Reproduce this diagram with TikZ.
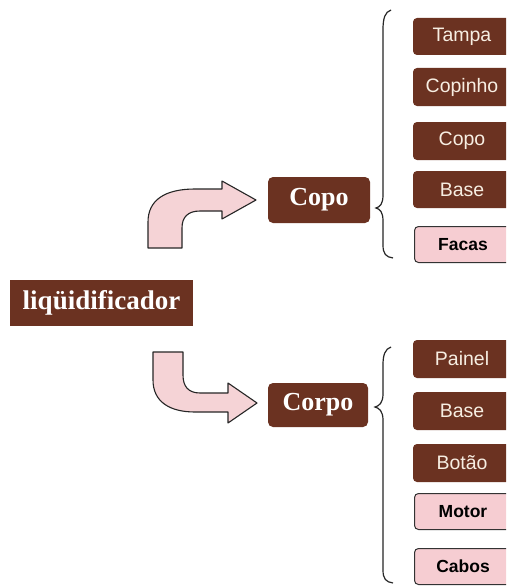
\documentclass[tikz,border=0pt]{standalone}
\usepackage{fontspec}
\setmainfont{Liberation Serif}
\setsansfont{Liberation Sans}
\definecolor{brown}{HTML}{6B3221}
\definecolor{pinkf}{HTML}{F6CDD2}
\definecolor{arrowf}{HTML}{F5D3D6}
\definecolor{cream}{HTML}{F7EEE2}
\tikzset{
  serifbox/.style={fill=brown, text=white, font=\bfseries\fontsize{26}{28}\selectfont, inner sep=0pt},
  itembox/.style={fill=brown, text=cream, rounded corners=4pt, minimum width=98pt, minimum height=37pt, inner sep=0pt, font=\sffamily\fontsize{19.5}{21}\selectfont},
  pinkbox/.style={fill=pinkf, draw=black!80, line width=1pt, text=black, rounded corners=4pt, minimum width=97pt, minimum height=36pt, inner sep=0pt, font=\sffamily\bfseries\fontsize{17.5}{19}\selectfont},
  bentarrow/.style={fill=arrowf, draw=black!85, line width=1.1pt, line join=round},
  bracepath/.style={draw=black!85, line width=1.2pt}
}
\begin{document}
\begin{tikzpicture}[x=1pt,y=-1pt]
\useasboundingbox (0,0) rectangle (506,586);
\clip (0,0) rectangle (506,586);
\fill[white] (0,0) rectangle (506,586);
% main nodes
\node[serifbox, minimum width=183pt, minimum height=46pt, font=\bfseries\fontsize{27}{29}\selectfont] (liq) at (101.5,303) {liqüidificador};
\node[serifbox, rounded corners=5pt, minimum width=102pt, minimum height=46pt] (copo) at (319,200) {Copo};
\node[serifbox, rounded corners=5pt, minimum width=100pt, minimum height=44pt] (corpo) at (318,405) {Corpo};
% top items
\node[itembox] (tampa) at (462,36.5) {Tampa};
\node[itembox, minimum height=38pt] (copinho) at (462,87) {Copinho};
\node[itembox, minimum height=38pt] (copo2) at (462,141) {Copo};
\node[itembox] (base1) at (462,189.5) {Base};
\node[pinkbox] (facas) at (463,244.5) {Facas};
% bottom items
\node[itembox, minimum height=38pt] (painel) at (462,359) {Painel};
\node[itembox, minimum height=38pt] (base2) at (462,411) {Base};
\node[itembox, minimum height=38pt] (botao) at (462,463) {Botão};
\node[pinkbox] (motor) at (463,511.5) {Motor};
\node[pinkbox] (cabos) at (463,566.5) {Cabos};
% bent arrows
\path[bentarrow] (148,248) -- (148,222) .. controls (148,200) and (165,189) .. (195,189) -- (222,189) -- (222,181) -- (256,200) -- (222,219) -- (222,211) -- (200,211) .. controls (188,211) and (182,217) .. (182,228) -- (182,248) -- cycle;
\path[bentarrow] (153,352) -- (153,380) .. controls (153,402) and (170,412) .. (195,412) -- (228,412) -- (228,423) -- (257,403) -- (228,383) -- (228,393) -- (200,393) .. controls (188,393) and (183,386) .. (183,375) -- (183,352) -- cycle;
% braces
\coordinate (b1top) at (391,10);
\coordinate (b1tip) at (376,208);
\coordinate (b1bot) at (393,258);
\draw[bracepath] (b1top) .. controls (385,12) and (383,18) .. (383,30) -- (383,195) .. controls (383,204) and (380,207) .. (b1tip) .. controls (380,209) and (383,212) .. (383,221) -- (383,245) .. controls (383,254) and (386,257) .. (b1bot);
\coordinate (b2top) at (391,347);
\coordinate (b2tip) at (375,407);
\coordinate (b2bot) at (393,583);
\draw[bracepath] (b2top) .. controls (385,349) and (383,355) .. (383,365) -- (383,394) .. controls (383,403) and (379,406) .. (b2tip) .. controls (379,408) and (383,411) .. (383,420) -- (383,570) .. controls (383,579) and (386,582) .. (b2bot);
\end{tikzpicture}
\end{document}
